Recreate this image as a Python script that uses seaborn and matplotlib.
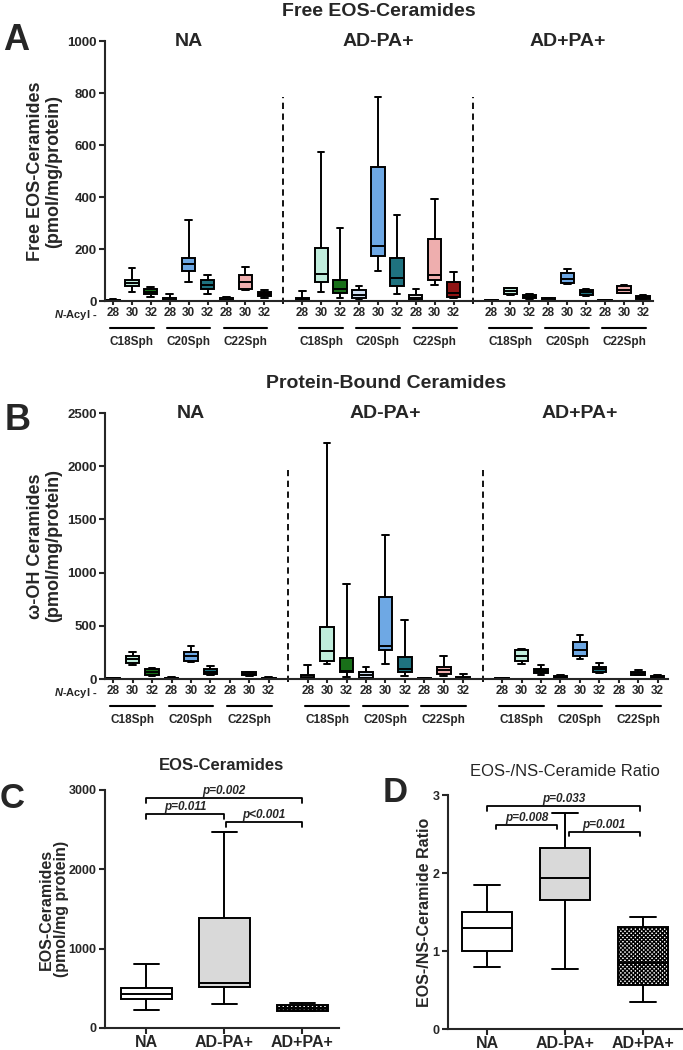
import numpy as np
import pandas as pd
import matplotlib.pyplot as plt
import seaborn as sns

sns.set_style("ticks")
plt.rcParams['font.family'] = ['Liberation Sans', 'DejaVu Sans']
plt.rcParams['font.weight'] = 'bold'
plt.rcParams['axes.labelweight'] = 'bold'
plt.rcParams['mathtext.fontset'] = 'custom'
plt.rcParams['mathtext.it'] = 'Liberation Sans:italic:bold'
plt.rcParams['mathtext.rm'] = 'Liberation Sans:bold'
plt.rcParams['hatch.linewidth'] = 1.0

groups = ["NA", "AD-PA+", "AD+PA+"]
acyl = ["28", "30", "32"]
sph = ["C18Sph", "C20Sph", "C22Sph"]
species = [s + "-" + a for s in sph for a in acyl]
species_colors = ["#1e1e1e", "#b8f5de", "#0b7d0b",
                  "#c9def5", "#5aa8f8", "#0f7d8f",
                  "#e6e6e6", "#f9a3a3", "#a30000"]

# five-number summaries: (min, q1, median, q3, max)
free_na = [(0, 1, 3, 5, 8), (35, 58, 69, 81, 127), (14, 26, 35, 45, 53),
           (0, 1, 5, 13, 26), (74, 115, 141, 167, 311), (27, 46, 62, 80, 100),
           (0, 2, 5, 10, 14), (44, 46, 73, 100, 132), (13, 20, 27, 36, 43)]
free_adpa = [(0, 1, 4, 13, 38), (35, 74, 103, 205, 573), (10, 32, 46, 81, 282),
             (3, 13, 23, 42, 59), (115, 172, 213, 517, 783), (27, 59, 90, 164, 331),
             (2, 4, 13, 23, 45), (62, 81, 100, 237, 393), (13, 17, 30, 73, 113)]
free_adpp = [(0, 1, 2, 3, 4), (25, 27, 38, 49, 51), (9, 11, 16, 23, 26),
             (0, 1, 5, 10, 12), (64, 68, 83, 109, 122), (21, 24, 33, 42, 45),
             (0, 1, 2, 4, 5), (30, 32, 44, 58, 60), (6, 9, 14, 20, 23)]

bound_na = [(0, 2, 5, 9, 12), (129, 153, 185, 216, 251), (25, 35, 63, 91, 100),
            (0, 3, 6, 12, 16), (163, 169, 216, 254, 310), (40, 47, 70, 94, 119),
            (0, 1, 2, 3, 4), (32, 35, 50, 63, 70), (2, 4, 8, 12, 15)]
bound_adpa = [(0, 2, 10, 38, 135), (141, 172, 263, 492, 2221), (22, 63, 75, 194, 890),
              (0, 13, 38, 63, 116), (141, 273, 310, 768, 1356), (31, 69, 94, 204, 554),
              (0, 1, 3, 5, 8), (31, 44, 82, 110, 219), (0, 3, 8, 22, 50)]
bound_adpp = [(0, 2, 5, 9, 12), (141, 169, 216, 273, 279), (38, 53, 75, 94, 135),
              (5, 10, 20, 30, 40), (191, 219, 273, 351, 413), (60, 63, 94, 116, 154),
              (0, 1, 2, 3, 4), (38, 41, 53, 66, 85), (0, 5, 14, 28, 35)]

eos_total = [(227, 366, 429, 508, 807), (299, 521, 571, 1383, 2475), (215, 218, 255, 290, 311)]
eos_ns_ratio = [(0.79, 1.00, 1.29, 1.50, 1.84), (0.77, 1.66, 1.94, 2.32, 2.77), (0.34, 0.57, 0.85, 1.31, 1.44)]

# significance brackets: (x from, x to, height, label)
eos_brackets = [(0, 2, 2900, "p=0.002"), (0, 1, 2700, "p=0.011"), (1.02, 2, 2600, "p<0.001")]
ratio_brackets = [(0, 1.96, 2.86, "p=0.033"), (0.12, 0.9, 2.62, "p=0.008"), (1.05, 1.96, 2.53, "p=0.001")]

W, H = 683, 1050
fig = plt.figure(figsize=(W / 100, H / 100), dpi=100)


def add_axes_px(left, top, right, bottom):
    return fig.add_axes([left / W, 1 - bottom / H, (right - left) / W, (bottom - top) / H])


def long_table(summaries):
    rows = []
    for g, boxes in enumerate(summaries):
        for i, stats in enumerate(boxes):
            for v in stats:
                rows.append({"pos": g * 10 + i, "species": species[i], "value": v})
    return pd.DataFrame(rows)


def style_axes(ax):
    sns.despine(ax=ax)
    for s in ["left", "bottom"]:
        ax.spines[s].set_linewidth(1.5)
    ax.tick_params(axis="both", width=1.5, length=4, pad=2)


def species_panel(ax, summaries, yticks, title, ylabel, dash_top):
    df = long_table(summaries)
    sns.boxplot(data=df, x="pos", y="value", hue="species",
                palette=dict(zip(species, species_colors)), native_scale=True,
                dodge=False, whis=(0, 100), width=0.7, linewidth=1.4,
                linecolor="black", legend=False, ax=ax)
    style_axes(ax)
    h_px = ax.get_position().height * H
    ax.set_xlim(-0.42, 28.53)
    ax.set_ylim(0, yticks[-1])
    ax.set_yticks(yticks)
    ax.tick_params(axis="y", labelsize=9.5)
    pos = sorted(df["pos"].unique())
    ax.set_xticks(pos)
    ax.set_xticklabels(acyl * 9)
    ax.tick_params(axis="x", labelsize=8.5, length=3, pad=1.5)
    ax.set_xlabel("")
    ax.set_ylabel(ylabel, fontsize=13, linespacing=1.05)
    ax.yaxis.set_label_coords(-43 / (ax.get_position().width * W), 0.5)
    trans = ax.get_xaxis_transform()
    for g in range(len(groups)):
        first = pos[g * 9]
        ax.text(first + 4, 1.0, groups[g], transform=trans, ha="center", va="center", fontsize=14)
        for j in range(3):
            c = pos[g * 9 + j * 3 + 1]
            ax.plot([c - 1.15, c + 1.15], [-27 / h_px] * 2, transform=trans,
                    color="black", lw=1.5, clip_on=False)
            ax.text(c, -41 / h_px, sph[j], transform=trans, ha="center", va="center", fontsize=8.5)
        if g > 0:
            sep = (pos[g * 9 - 1] + pos[g * 9]) / 2
            ax.axvline(sep, ymin=-0.012, ymax=dash_top, ls=(0, (3.5, 2.5)), lw=1.3,
                       color="black", clip_on=False)
    ax.text(pos[0] - 0.8, -14 / h_px, r"$N$-Acyl -", transform=trans, ha="right",
            va="center", fontsize=8)
    ax.text(0.5, 1 + 29 / h_px, title, transform=ax.transAxes, ha="center", va="center", fontsize=14)


def group_panel(ax, summaries, yticks, title, ylabel, brackets, drop, title_weight, label_right):
    rows = []
    for g, stats in enumerate(summaries):
        for v in stats:
            rows.append({"group": groups[g], "value": v})
    df = pd.DataFrame(rows)
    sns.boxplot(data=df, x="group", y="value", hue="group", order=groups,
                palette={"NA": "white", "AD-PA+": "#d9d9d9", "AD+PA+": "white"},
                whis=(0, 100), width=0.65, linewidth=1.4, linecolor="black",
                legend=False, ax=ax)
    style_axes(ax)
    ax.patches[2].set_hatch("xxxxxxxx")
    ax.set_ylim(0, yticks[-1])
    ax.set_yticks(yticks)
    ax.tick_params(axis="y", labelsize=9)
    ax.tick_params(axis="x", labelsize=11.5, pad=1)
    ax.set_xlabel("")
    ax.set_ylabel(ylabel, fontsize=11.5, linespacing=1.05)
    h_px = ax.get_position().height * H
    ax.yaxis.set_label_coords(label_right / (ax.get_position().width * W), 0.5)
    for x1, x2, y, lab in brackets:
        ax.plot([x1, x1, x2, x2], [y - drop, y, y, y - drop], color="black", lw=1.3, clip_on=False)
        ax.text((x1 + x2) / 2, y + drop * 0.15, lab, ha="center", va="bottom",
                fontsize=8.5, fontstyle="italic")
    ax.text(0.5, 1 + 24 / h_px, title, transform=ax.transAxes, ha="center", va="center",
            fontsize=12, fontweight=title_weight)


ax_a = add_axes_px(105, 41, 653, 301)
species_panel(ax_a, [free_na, free_adpa, free_adpp], [0, 200, 400, 600, 800, 1000],
              "Free EOS-Ceramides", "Free EOS-Ceramides\n(pmol/mg/protein)", 0.785)

ax_b = add_axes_px(105, 413, 668, 679)
species_panel(ax_b, [bound_na, bound_adpa, bound_adpp], [0, 500, 1000, 1500, 2000, 2500],
              "Protein-Bound Ceramides", "ω-OH Ceramides\n(pmol/mg/protein)", 0.786)

ax_c = add_axes_px(105, 790, 339, 1028)
group_panel(ax_c, eos_total, [0, 1000, 2000, 3000], "EOS-Ceramides",
            "EOS-Ceramides\n(pmol/mg protein)", eos_brackets, 70, "bold", -36)
ax_c.set_xlim(-0.53, 2.47)

ax_d = add_axes_px(448, 795, 682, 1029)
group_panel(ax_d, eos_ns_ratio, [0, 1, 2, 3], "EOS-/NS-Ceramide Ratio",
            "EOS-/NS-Ceramide Ratio", ratio_brackets, 0.06, "normal", -16)
ax_d.set_xlim(-0.5, 2.5)

for letter, x, y, size in [("A", 3, 50, 26), ("B", 5, 430, 26), ("C", 0, 808, 25), ("D", 383, 802, 25)]:
    fig.text(x / W, 1 - y / H, letter, fontsize=size, fontweight="bold", ha="left", va="baseline")

fig.savefig("out.png", dpi=100)
